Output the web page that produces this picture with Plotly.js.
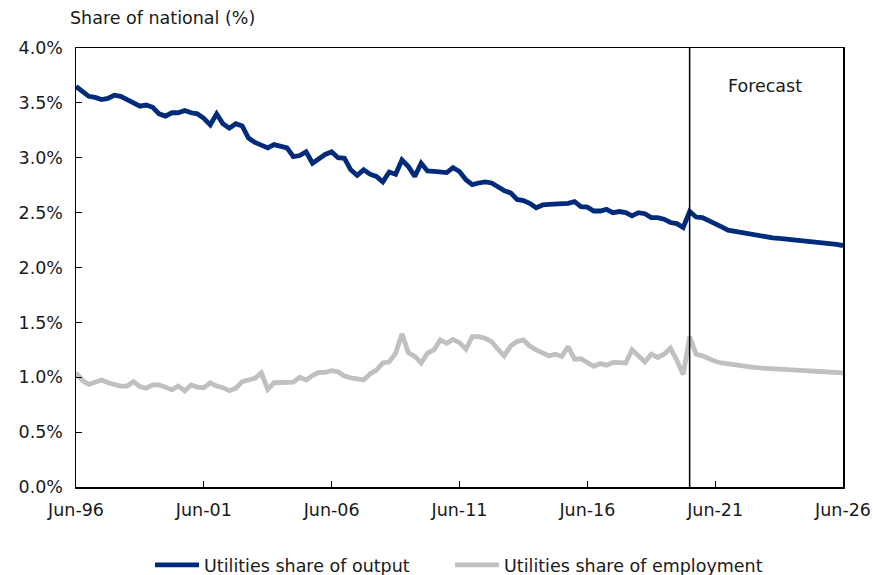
<!DOCTYPE html>
<html>
<head>
<meta charset="utf-8">
<script src="https://cdn.plot.ly/plotly-3.0.1.min.js"></script>
<style>html,body{margin:0;padding:0;background:#fff;}#chart{width:873px;height:575px;}</style>
</head>
<body>
<div id="chart"></div>
<script>
// Quarterly periods, Jun-1996 to Jun-2026
const startYear = 1996, startMonth = 6, nQuarters = 121;
const quarters = [];
for (let i = 0; i < nQuarters; i++) {
  const m0 = startMonth - 1 + 3 * i;
  const y = startYear + Math.floor(m0 / 12);
  const m = (m0 % 12) + 1;
  quarters.push(y + '-' + String(m).padStart(2, '0') + '-01');
}

// Utilities share of national output (%)
const outputShare = [
  3.65, 3.60, 3.56, 3.55, 3.53, 3.54, 3.57, 3.56, 3.535, 3.50,
  3.47, 3.48, 3.46, 3.40, 3.38, 3.41, 3.41, 3.43, 3.41, 3.40,
  3.36, 3.30, 3.40, 3.31, 3.27, 3.31, 3.29, 3.18, 3.14, 3.12,
  3.09, 3.12, 3.11, 3.09, 3.01, 3.02, 3.055, 2.95, 2.99, 3.03,
  3.055, 3.00, 2.995, 2.89, 2.84, 2.89, 2.85, 2.83, 2.78, 2.87,
  2.85, 2.98, 2.92, 2.83, 2.95, 2.88, 2.875, 2.87, 2.865, 2.91,
  2.875, 2.80, 2.755, 2.77, 2.78, 2.77, 2.73, 2.70, 2.68, 2.62,
  2.61, 2.585, 2.545, 2.57, 2.575, 2.575, 2.585, 2.585, 2.60, 2.555,
  2.55, 2.515, 2.515, 2.53, 2.50, 2.51, 2.50, 2.47, 2.50, 2.49,
  2.455, 2.455, 2.44, 2.41, 2.40, 2.365, 2.51, 2.46, 2.455, 2.43,
  2.40, 2.37, 2.34, 2.33, 2.315, 2.30, 2.29, 2.285, 2.28, 2.27,
  2.265, 2.26, 2.255, 2.25, 2.24, 2.23, 2.225, 2.22, 2.215, 2.21,
  2.20
];

// Utilities share of national employment (%)
const employmentShare = [
  1.04, 0.97, 0.935, 0.95, 0.975, 0.95, 0.93, 0.92, 0.92, 0.96,
  0.915, 0.90, 0.93, 0.93, 0.91, 0.885, 0.92, 0.875, 0.93, 0.91,
  0.905, 0.95, 0.92, 0.905, 0.877, 0.90, 0.96, 0.98, 0.99, 1.04,
  0.89, 0.95, 0.955, 0.96, 0.955, 1.00, 0.975, 1.015, 1.045, 1.045,
  1.06, 1.05, 1.01, 0.995, 0.99, 0.975, 1.03, 1.065, 1.13, 1.14,
  1.22, 1.395, 1.225, 1.19, 1.13, 1.22, 1.25, 1.34, 1.31, 1.345,
  1.315, 1.255, 1.37, 1.37, 1.355, 1.325, 1.255, 1.195, 1.285, 1.325,
  1.34, 1.285, 1.25, 1.225, 1.195, 1.21, 1.19, 1.28, 1.165, 1.17,
  1.13, 1.10, 1.125, 1.11, 1.135, 1.135, 1.13, 1.25, 1.195, 1.14,
  1.21, 1.18, 1.21, 1.265, 1.155, 1.025, 1.37, 1.21, 1.195, 1.165,
  1.145, 1.13, 1.12, 1.11, 1.10, 1.095, 1.09, 1.085, 1.08, 1.075,
  1.072, 1.07, 1.066, 1.063, 1.06, 1.057, 1.054, 1.048, 1.045, 1.04,
  1.04
];

const seriesNames = ['Utilities share of output', 'Utilities share of employment'];
const forecastStart = '2020-06-01';
const forecastLabel = 'Forecast';
const xTickVals = ['1996-06-01','2001-06-01','2006-06-01','2011-06-01','2016-06-01','2021-06-01','2026-06-01'];
const xTickText = ['Jun-96','Jun-01','Jun-06','Jun-11','Jun-16','Jun-21','Jun-26'];
const yTitle = 'Share of national (%)';

const FONT = 'DejaVu Sans, Verdana, sans-serif';
const TXT = '#1a1a1a';

const traces = [
  {x: quarters, y: outputShare, name: seriesNames[0], type: 'scatter', mode: 'lines',
   line: {color: '#002b7a', width: 4.8}, legend: 'legend'},
  {x: quarters, y: employmentShare, name: seriesNames[1], type: 'scatter', mode: 'lines',
   line: {color: '#c0c0c0', width: 4.8}, legend: 'legend2'}
];

const legendBase = {orientation: 'h', xref: 'container', yref: 'container', xanchor: 'left',
  y: 1 - 565/575, yanchor: 'middle', font: {family: FONT, size: 17.5, color: TXT},
  itemwidth: 44, bgcolor: 'rgba(0,0,0,0)'};

const layout = {
  width: 873, height: 575,
  margin: {l: 76, r: 30, t: 48, b: 88, autoexpand: false},
  paper_bgcolor: '#ffffff', plot_bgcolor: '#ffffff',
  font: {family: FONT, size: 17.5, color: TXT},
  title: {text: yTitle, xref: 'container', yref: 'container', x: 70/873, xanchor: 'left',
          y: 1 - 18/575, yanchor: 'middle', font: {family: FONT, size: 17.5, color: TXT}},
  xaxis: {
    type: 'date', range: ['1996-06-01', '2026-06-01'],
    tickvals: xTickVals, ticktext: xTickText,
    ticks: 'inside', ticklen: 6, tickwidth: 1, tickcolor: '#000',
    ticklabelstandoff: 6,
    showline: true, linecolor: '#000', linewidth: 1.5, mirror: true,
    showgrid: false, zeroline: false,
    tickfont: {family: FONT, size: 17.5, color: TXT}
  },
  yaxis: {
    range: [0, 4], dtick: 0.5, tick0: 0, tickformat: '.1f', ticksuffix: '%',
    ticks: 'inside', ticklen: 6, tickwidth: 1, tickcolor: '#000',
    ticklabelstandoff: 8,
    showline: true, linecolor: '#000', linewidth: 1.5, mirror: true,
    showgrid: false, zeroline: false,
    tickfont: {family: FONT, size: 17.5, color: TXT}
  },
  shapes: [{type: 'line', xref: 'x', yref: 'paper', x0: forecastStart, x1: forecastStart,
            y0: 0, y1: 1, line: {color: '#000', width: 1.5}}],
  annotations: [{text: forecastLabel, xref: 'x', yref: 'y', x: '2023-05-15', y: 3.65,
                 showarrow: false, xanchor: 'center', yanchor: 'middle',
                 font: {family: FONT, size: 17.5, color: TXT}}],
  showlegend: true,
  legend: Object.assign({}, legendBase, {x: 150/873}),
  legend2: Object.assign({}, legendBase, {x: 450/873})
};

Plotly.newPlot('chart', traces, layout, {staticPlot: true, displayModeBar: false});
</script>
</body>
</html>
